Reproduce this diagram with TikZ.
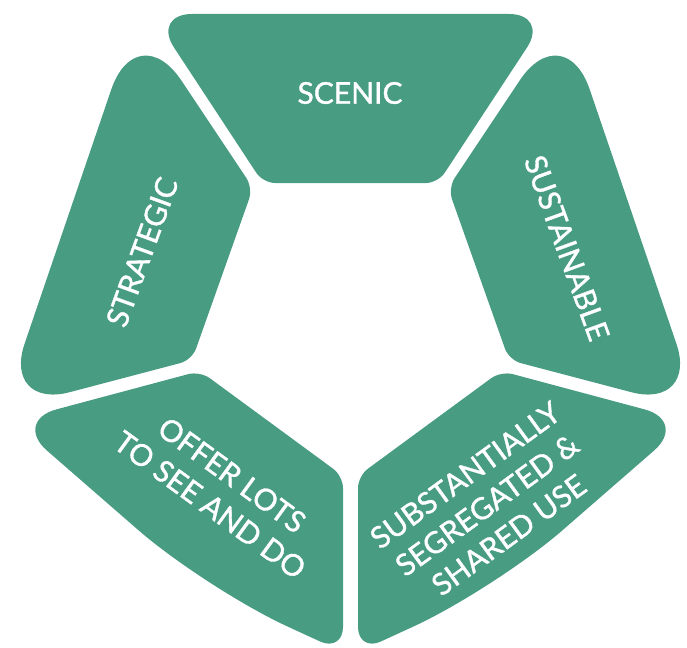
\documentclass[tikz,border=0pt]{standalone}
\usepackage{fontspec}
\setmainfont{Lato}
\newfontfamily\labelfont{Lato}[FakeBold=1.2]
\usetikzlibrary{calc}
\definecolor{segcol}{RGB}{72,156,130}
% rounded corner at vertex #2 (coming from #1, going to #3), corner size #4 (pt)
\newcommand\rcorner[4]{-- ($(#2)!#4pt!(#1)$) .. controls ($(#2)!0.45*#4pt!(#1)$) and ($(#2)!0.45*#4pt!(#3)$) .. ($(#2)!#4pt!(#3)$)}
\tikzset{
  seg/.style={fill=segcol, draw=none},
  lbl/.style={text=white, font=\labelfont\fontsize{30}{37}\selectfont, align=center, inner sep=0pt}
}
\begin{document}
\begin{tikzpicture}[x=1pt,y=-1pt]
\useasboundingbox (0,0) rectangle (687,647);
% SCENIC
\coordinate (a1) at (152,14);
\coordinate (a2) at (549,14);
\coordinate (a3) at (438,183);
\coordinate (a4) at (263,183);
\fill[seg] ($(a1)!40pt!(a2)$) \rcorner{a1}{a2}{a3}{40} \rcorner{a2}{a3}{a4}{12} \rcorner{a3}{a4}{a1}{12} \rcorner{a4}{a1}{a2}{40} -- cycle;
% STRATEGIC
\coordinate (b1) at (137,14);
\coordinate (b2) at (253,188);
\coordinate (b3) at (192,360);
\coordinate (b4) at (2,410);
\fill[seg] ($(b1)!80pt!(b2)$) \rcorner{b1}{b2}{b3}{12} \rcorner{b2}{b3}{b4}{12} \rcorner{b3}{b4}{b1}{70} \rcorner{b4}{b1}{b2}{80} -- cycle;
% SUSTAINABLE
\coordinate (c1) at (564,14);
\coordinate (c2) at (448,188);
\coordinate (c3) at (509,360);
\coordinate (c4) at (699,410);
\fill[seg] ($(c1)!80pt!(c2)$) \rcorner{c1}{c2}{c3}{12} \rcorner{c2}{c3}{c4}{12} \rcorner{c3}{c4}{c1}{70} \rcorner{c4}{c1}{c2}{80} -- cycle;
% OFFER LOTS TO SEE AND DO
\coordinate (d1) at (13,421);
\coordinate (d2) at (200,371);
\coordinate (d3) at (343,476);
\coordinate (d4) at (343,652);
\coordinate (d5) at (206,589);
\fill[seg] ($(d1)!45pt!(d2)$) \rcorner{d1}{d2}{d3}{12} \rcorner{d2}{d3}{d4}{12} \rcorner{d3}{d4}{d5}{25} \rcorner{d4}{d5}{d1}{90} \rcorner{d5}{d1}{d2}{45} -- cycle;
% SUBSTANTIALLY SEGREGATED & SHARED USE
\coordinate (e1) at (688,421);
\coordinate (e2) at (501,371);
\coordinate (e3) at (358,476);
\coordinate (e4) at (358,652);
\coordinate (e5) at (495,589);
\fill[seg] ($(e1)!45pt!(e2)$) \rcorner{e1}{e2}{e3}{12} \rcorner{e2}{e3}{e4}{12} \rcorner{e3}{e4}{e5}{25} \rcorner{e4}{e5}{e1}{90} \rcorner{e5}{e1}{e2}{45} -- cycle;
% labels
\node[lbl] (scenic) at (350,93) {SCENIC};
\node[lbl, rotate=70] (strategic) at (142,252) {STRATEGIC};
\node[lbl, rotate=-70] (sustainable) at (567,248) {SUSTAINABLE};
\node[lbl, rotate=-36] (offer) at (221,490) {OFFER LOTS\\TO SEE AND DO};
\node[lbl, rotate=36] (subst) at (487,505) {SUBSTANTIALLY\\SEGREGATED \&\\SHARED USE};
\end{tikzpicture}
\end{document}
